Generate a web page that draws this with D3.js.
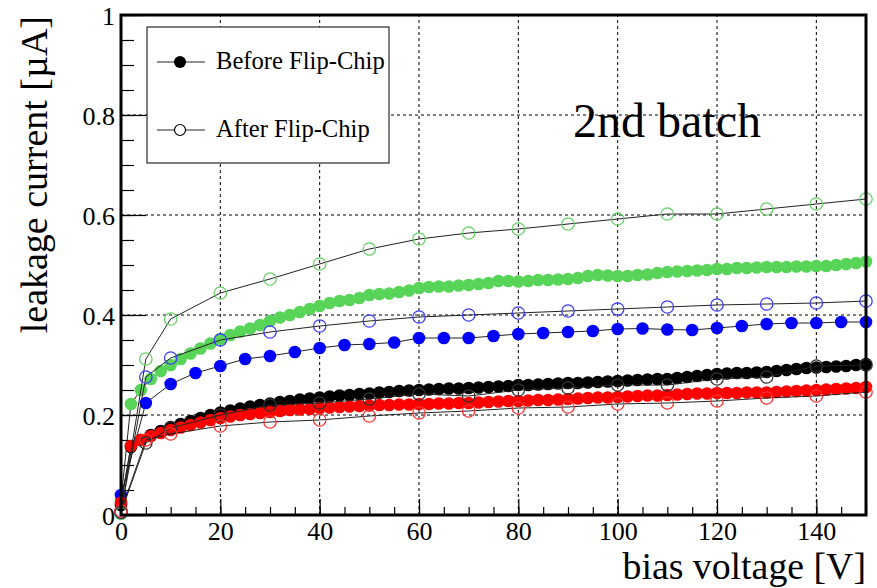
<!DOCTYPE html>
<html>
<head>
<meta charset="utf-8">
<script src="https://cdn.jsdelivr.net/npm/d3@7"></script>
<style>
  html, body { margin: 0; padding: 0; background: #fff; }
  svg text { font-family: "Liberation Serif", "DejaVu Serif", serif; fill: #000; }
</style>
</head>
<body>
<svg id="chart" width="877" height="588"></svg>
<script>
// Bias scan step sizes: dense scans every 2 V, blue scan every 5 V, after-flip-chip scans every 10 V
const voltDense = d3.range(0, 151, 2);
const voltBlue = d3.range(0, 151, 5);
const voltAfter = [0, 5, 10, 20, 30, 40, 50, 60, 70, 80, 90, 100, 110, 120, 130, 140, 150];

// Before flip-chip (µA)
const greenBefore = [0.03, 0.222, 0.25, 0.272, 0.288, 0.3, 0.312, 0.323, 0.333, 0.343, 0.352, 0.36, 0.367, 0.373, 0.38, 0.388,
  0.395, 0.4, 0.406, 0.412, 0.418, 0.424, 0.428, 0.43, 0.434, 0.44, 0.442, 0.443, 0.446, 0.449, 0.454, 0.456, 0.457, 0.457,
  0.459, 0.46, 0.462, 0.464, 0.468, 0.468, 0.467, 0.468, 0.47, 0.47, 0.471, 0.472, 0.474, 0.478, 0.48, 0.479, 0.478, 0.478,
  0.48, 0.481, 0.484, 0.486, 0.487, 0.488, 0.489, 0.49, 0.492, 0.492, 0.494, 0.494, 0.495, 0.496, 0.496, 0.496, 0.497, 0.497,
  0.498, 0.498, 0.5, 0.502, 0.504, 0.507];
const blueBefore = [0.04, 0.224, 0.262, 0.284, 0.298, 0.312, 0.318, 0.326, 0.334, 0.34, 0.342, 0.345, 0.354, 0.354, 0.354,
  0.358, 0.362, 0.364, 0.366, 0.368, 0.372, 0.373, 0.371, 0.37, 0.374, 0.378, 0.382, 0.384, 0.384, 0.386, 0.386];
const blackBefore = [0.02, 0.136, 0.15, 0.16, 0.168, 0.176, 0.182, 0.188, 0.194, 0.2, 0.205, 0.209, 0.213, 0.217, 0.22, 0.223,
  0.226, 0.228, 0.231, 0.233, 0.235, 0.237, 0.239, 0.24, 0.242, 0.243, 0.245, 0.246, 0.248, 0.249, 0.25, 0.251, 0.252, 0.253,
  0.253, 0.254, 0.255, 0.256, 0.257, 0.258, 0.26, 0.26, 0.261, 0.262, 0.263, 0.264, 0.264, 0.265, 0.266, 0.267, 0.268, 0.269,
  0.27, 0.271, 0.272, 0.272, 0.274, 0.276, 0.278, 0.28, 0.282, 0.283, 0.284, 0.284, 0.285, 0.286, 0.288, 0.29, 0.292, 0.294,
  0.295, 0.296, 0.297, 0.298, 0.3, 0.302];
const redBefore = [0.025, 0.138, 0.15, 0.158, 0.164, 0.17, 0.175, 0.18, 0.185, 0.19, 0.194, 0.197, 0.2, 0.202, 0.204, 0.206,
  0.208, 0.21, 0.211, 0.212, 0.214, 0.215, 0.216, 0.217, 0.218, 0.219, 0.22, 0.22, 0.221, 0.221, 0.222, 0.222, 0.223, 0.223,
  0.224, 0.224, 0.225, 0.226, 0.227, 0.228, 0.228, 0.229, 0.23, 0.23, 0.231, 0.232, 0.233, 0.234, 0.235, 0.235, 0.236, 0.237,
  0.238, 0.239, 0.239, 0.24, 0.241, 0.242, 0.243, 0.243, 0.244, 0.244, 0.244, 0.245, 0.245, 0.245, 0.246, 0.247, 0.248, 0.249,
  0.25, 0.251, 0.252, 0.253, 0.254, 0.256];

// After flip-chip (µA)
const greenAfter = [0.003, 0.312, 0.392, 0.444, 0.472, 0.502, 0.532, 0.552, 0.564, 0.572, 0.582, 0.592, 0.602, 0.602, 0.612, 0.622, 0.632];
const blueAfter = [0.006, 0.276, 0.314, 0.35, 0.366, 0.378, 0.388, 0.396, 0.4, 0.404, 0.408, 0.412, 0.416, 0.42, 0.422, 0.424, 0.428];
const blackAfter = [0.005, 0.144, 0.174, 0.2, 0.22, 0.224, 0.232, 0.242, 0.238, 0.25, 0.254, 0.26, 0.26, 0.272, 0.276, 0.298, 0.3];
const redAfter = [0.008, 0.15, 0.162, 0.178, 0.186, 0.19, 0.198, 0.204, 0.208, 0.214, 0.216, 0.222, 0.224, 0.228, 0.234, 0.238, 0.246];

// Axis ticks and labels
const xMajor = [0, 20, 40, 60, 80, 100, 120, 140];
const xMinor = d3.range(0, 151, 5);
const yMajor = [0, 0.2, 0.4, 0.6, 0.8, 1];
const yMinor = d3.range(0, 1.0001, 0.05);
const yLabels = ["0", "0.2", "0.4", "0.6", "0.8", "1"];
const legendLabels = ["Before Flip-Chip", "After Flip-Chip"];
const batchTitle = "2nd batch";
const xTitle = "bias voltage [V]";
const yTitle = "leakage current [µA]";

const serif = "'Liberation Serif', 'DejaVu Serif', serif";
const svg = d3.select("#chart");
const x = d3.scaleLinear().domain([0, 150]).range([121, 866]);
const y = d3.scaleLinear().domain([0, 1]).range([515, 15]);

// Dotted grid at the major ticks
const grid = svg.append("g");
grid.selectAll("line.gx").data(xMajor.filter(v => v > 0)).join("line")
  .attr("x1", d => x(d)).attr("x2", d => x(d)).attr("y1", y(0)).attr("y2", y(1))
  .attr("stroke", "#000").attr("stroke-width", 1).attr("stroke-dasharray", "3,3");
grid.selectAll("line.gy").data(yMajor.filter(v => v > 0 && v < 1)).join("line")
  .attr("y1", d => y(d)).attr("y2", d => y(d)).attr("x1", x(0)).attr("x2", x(150))
  .attr("stroke", "#000").attr("stroke-width", 1).attr("stroke-dasharray", "3,3");

// Axes: ticks point into the frame
const xMinorAxis = d3.axisBottom(x).tickValues(xMinor).tickSize(-8).tickFormat("");
const xMajorAxis = d3.axisBottom(x).tickValues(xMajor).tickSize(-16).tickPadding(24).tickFormat(d3.format("d"));
const yMinorAxis = d3.axisLeft(y).tickValues(yMinor).tickSize(-13).tickFormat("");
const yMajorAxis = d3.axisLeft(y).tickValues(yMajor).tickSize(-25).tickPadding(30)
  .tickFormat((d, i) => yLabels[i]);

function styleAxis(g) {
  g.select(".domain").remove();
  g.selectAll(".tick line").attr("stroke", "#000").attr("stroke-width", 1.2);
}
svg.append("g").attr("transform", `translate(0,${y(0)})`).call(xMinorAxis).call(styleAxis);
const gx = svg.append("g").attr("transform", `translate(0,${y(0)})`).call(xMajorAxis).call(styleAxis);
gx.selectAll(".tick text").attr("font-size", 26).style("font-family", serif).attr("fill", "#000").attr("y", 7);
svg.append("g").attr("transform", `translate(${x(0)},0)`).call(yMinorAxis).call(styleAxis);
const gy = svg.append("g").attr("transform", `translate(${x(0)},0)`).call(yMajorAxis).call(styleAxis);
gy.selectAll(".tick text").attr("font-size", 26).style("font-family", serif).attr("fill", "#000")
  .attr("x", -6).attr("dy", "0.36em");

// Series: connecting polyline, then markers
const line = d3.line().x(d => x(d[0])).y(d => y(d[1]));
const marks = svg.append("g");

function drawSeries(volts, vals, color, filled) {
  const pts = volts.map((v, i) => [v, vals[i]]);
  marks.append("path").datum(pts).attr("d", line)
    .attr("fill", "none").attr("stroke", "#222").attr("stroke-width", 1);
  marks.append("g").selectAll("circle").data(pts).join("circle")
    .attr("cx", d => x(d[0])).attr("cy", d => y(d[1]))
    .attr("r", filled ? 6.3 : 6.2)
    .attr("fill", filled ? color : "none")
    .attr("stroke", color).attr("stroke-width", filled ? 0 : 1.3);
}

drawSeries(voltDense, greenBefore, "#58d558", true);
drawSeries(voltBlue, blueBefore, "#0000ff", true);
drawSeries(voltDense, blackBefore, "#000000", true);
drawSeries(voltDense, redBefore, "#ff0000", true);
drawSeries(voltAfter, greenAfter, "#66d066", false);
drawSeries(voltAfter, blueAfter, "#3b3bff", false);
drawSeries(voltAfter, blackAfter, "#333333", false);
drawSeries(voltAfter, redAfter, "#ff3030", false);

// Frame
svg.append("rect")
  .attr("x", x(0)).attr("y", y(1)).attr("width", x(150) - x(0)).attr("height", y(0) - y(1))
  .attr("fill", "none").attr("stroke", "#000").attr("stroke-width", 3);

// Legend
const leg = svg.append("g");
leg.append("rect").attr("x", 147).attr("y", 27).attr("width", 242).attr("height", 136)
  .attr("fill", "#fff").attr("stroke", "#000").attr("stroke-width", 1);
const legRows = [{ label: legendLabels[0], filled: true, cy: 62 }, { label: legendLabels[1], filled: false, cy: 130 }];
legRows.forEach(r => {
  leg.append("line").attr("x1", 157).attr("x2", 205).attr("y1", r.cy).attr("y2", r.cy)
    .attr("stroke", "#222").attr("stroke-width", 1);
  leg.append("circle").attr("cx", 180).attr("cy", r.cy).attr("r", r.filled ? 6 : 5.5)
    .attr("fill", r.filled ? "#000" : "#fff").attr("stroke", "#000").attr("stroke-width", r.filled ? 0 : 1.2);
  leg.append("text").attr("x", 216).attr("y", r.cy + 7).attr("font-size", 24.6)
    .style("font-family", serif).text(r.label);
});

// Titles
svg.append("text").attr("x", 573).attr("y", 137).attr("font-size", 48).style("font-family", serif).text(batchTitle);
svg.append("text").attr("x", 866).attr("y", 579).attr("text-anchor", "end").attr("font-size", 37.8)
  .style("font-family", serif).text(xTitle);
svg.append("text").attr("transform", "translate(47,16) rotate(-90)").attr("text-anchor", "end")
  .attr("font-size", 38).style("font-family", serif).text(yTitle);
</script>
</body>
</html>
